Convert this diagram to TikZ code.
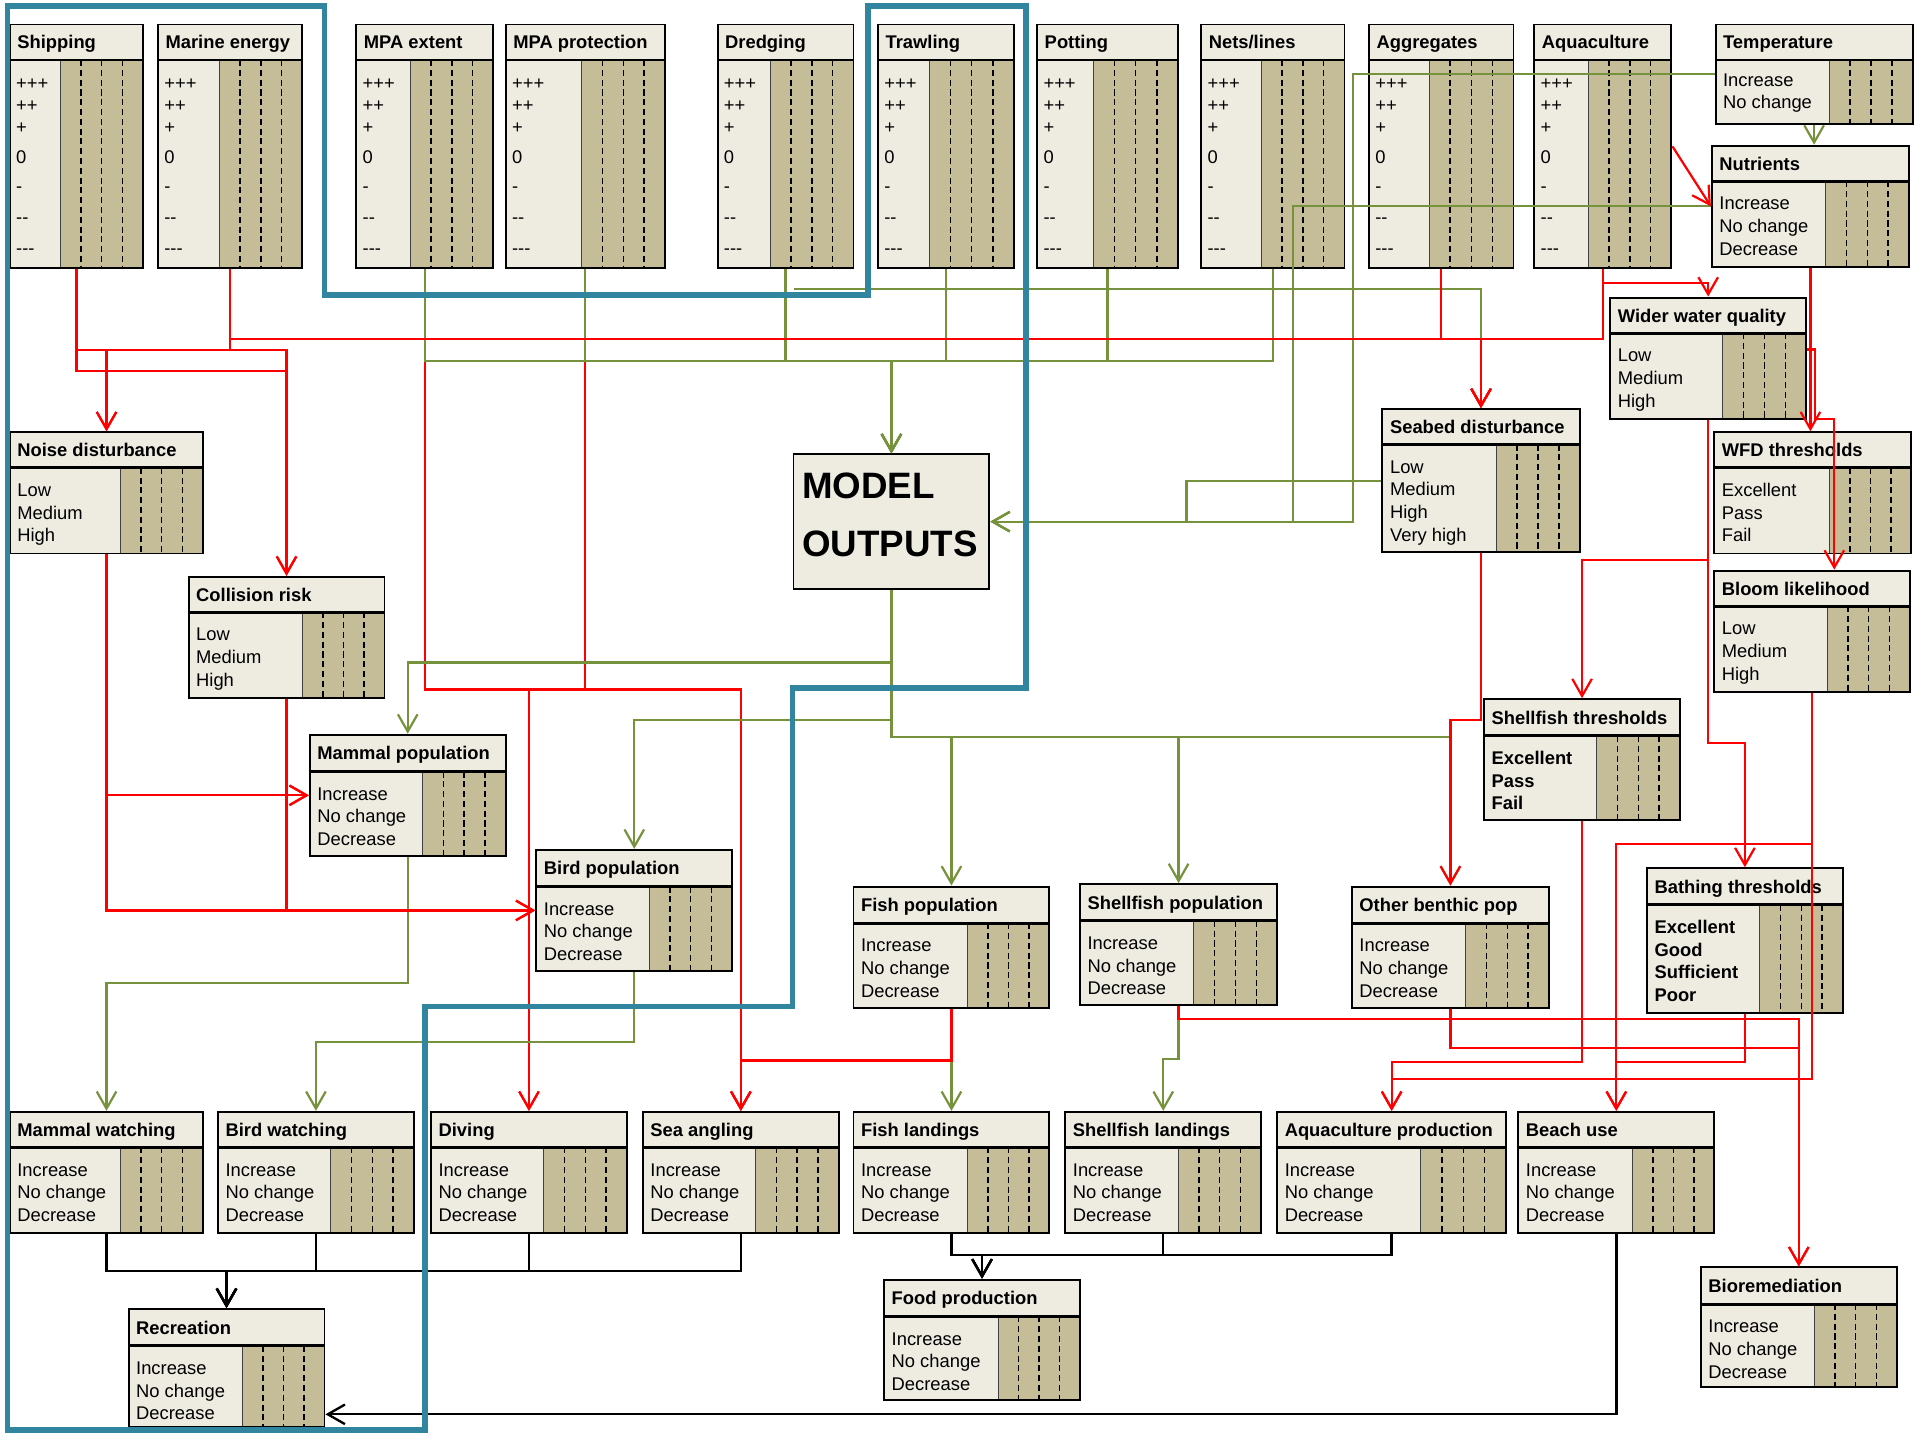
\documentclass[tikz,border=0pt]{standalone}
\usepackage{fontspec}
\setmainfont{Liberation Sans}
\usetikzlibrary{arrows.meta,fit}

\definecolor{boxbg}{RGB}{238,236,225}
\definecolor{boxtan}{RGB}{196,189,151}
\definecolor{linkred}{RGB}{255,0,0}
\definecolor{linkgreen}{RGB}{118,146,60}
\definecolor{zoneteal}{RGB}{49,133,158}

\tikzset{
  boxframe/.style={draw=black, line width=1.6pt, inner sep=0pt},
  headrule/.style={line width=2.4pt},
  scalerule/.style={black, line width=1.2pt, dash pattern=on 5pt off 3pt},
  titletext/.style={font=\fontsize{15}{18}\selectfont\bfseries, anchor=base west, inner sep=0pt},
  itemtext/.style={font=\fontsize{15}{18}\selectfont, anchor=base west, inner sep=0pt},
  link/.style={line width=1.8pt, -{Straight Barb[length=14pt,width=16pt]}},
  redlink/.style={link, draw=linkred},
  greenlink/.style={link, draw=linkgreen},
  blacklink/.style={link, draw=black, line width=1.9pt},
  zone/.style={draw=zoneteal, line width=4.5pt, line join=miter},
}

% #1 name, #2 left, #3 top, #4 right, #5 bottom, #6 header rule, #7 start of scale panel, #8 title
\newcommand\netbox[8]{%
  \fill[boxbg] (#2,#3) rectangle (#4,#5);
  \fill[boxtan] (#7,#6) rectangle (#4,#5);
  \foreach \k in {1,2,3}
    \draw[scalerule] ({#7+(#4-#7)*\k/4},#6) -- ({#7+(#4-#7)*\k/4},#5);
  \draw[black!75, line width=0.7pt] (#7,#6) -- (#7,#5);
  \draw[headrule] (#2,#6) -- (#4,#6);
  \node[boxframe, fit={(#2,#3) (#4,#5)}] (#1) {};
  \node[titletext] (#1-title) at (#2+6,{(#3+#6)/2+5.5}) {#8};
}
% state labels: #1 name, #2 left, #3 header rule, #4 list
\newcommand\boxrows[4]{%
  \foreach \t [count=\i] in {#4}
    \node[itemtext] (#1-r\i) at (#2+6,{#3+23.4+(\i-1)*18.5}) {\t};
}
% scenario scale of the pressure boxes: #1 name, #2 left
\newcommand\signrows[2]{%
  \foreach \t/\yy [count=\i] in {{+++}/73.3,{++}/91.3,{+}/109.3,{0}/133.4,{-}/157.5,{{-}{-}}/182.5,{{-}{-}{-}}/207.5}
    \node[itemtext] (#1-r\i) at (#2+5,\yy) {\t};
}

\begin{document}
\begin{tikzpicture}[x=1pt,y=-1pt]
\useasboundingbox[fill=white] (0,0) rectangle (1568,1176);

% ---------- pressures ----------
\netbox{ship}{8}{20}{117}{219}{49}{49}{Shipping}\signrows{ship}{8}
\netbox{marine}{129}{20}{247}{219}{49}{179}{Marine energy}\signrows{marine}{129}
\netbox{mpaext}{291}{20}{403}{219}{49}{335}{MPA extent}\signrows{mpaext}{291}
\netbox{mpaprot}{413}{20}{543}{219}{49}{475}{MPA protection}\signrows{mpaprot}{413}
\netbox{dredge}{586}{20}{697}{219}{49}{629}{Dredging}\signrows{dredge}{586}
\netbox{trawl}{717}{20}{828}{219}{49}{759}{Trawling}\signrows{trawl}{717}
\netbox{pot}{847}{20}{962}{219}{49}{893}{Potting}\signrows{pot}{847}
\netbox{nets}{981}{20}{1098}{219}{49}{1030}{Nets/lines}\signrows{nets}{981}
\netbox{aggr}{1118}{20}{1236}{219}{49}{1167}{Aggregates}\signrows{aggr}{1118}
\netbox{aquac}{1253}{20}{1365}{219}{49}{1297}{Aquaculture}\signrows{aquac}{1253}

% ---------- environment ----------
\netbox{temp}{1401}{20}{1562}{101}{49}{1494}{Temperature}
\boxrows{temp}{1401}{47}{Increase,No change}
\netbox{nutr}{1398}{119}{1559}{218}{148}{1491}{Nutrients}
\boxrows{nutr}{1398}{148}{Increase,No change,Decrease}
\netbox{wwq}{1315}{243}{1475}{342}{272}{1407}{Wider water quality}
\boxrows{wwq}{1315}{272}{Low,Medium,High}
\netbox{seabed}{1129}{334}{1290}{451}{363}{1222}{Seabed disturbance}
\boxrows{seabed}{1129}{363}{Low,Medium,High,Very high}
\netbox{wfd}{1400}{353}{1561}{452}{382}{1494}{WFD thresholds}
\boxrows{wfd}{1400}{382}{Excellent,Pass,Fail}
\netbox{bloom}{1400}{466}{1560}{565}{495}{1492}{Bloom likelihood}
\boxrows{bloom}{1400}{495}{Low,Medium,High}
\netbox{shthr}{1212}{571}{1372}{670}{601}{1304}{Shellfish thresholds}
\boxrows{shthr}{1212}{601}{\textbf{Excellent},\textbf{Pass},\textbf{Fail}}
\netbox{bath}{1345}{709}{1505}{827}{739}{1437}{Bathing thresholds}
\boxrows{bath}{1345}{739}{\textbf{Excellent},\textbf{Good},\textbf{Sufficient},\textbf{Poor}}
\netbox{noise}{8}{353}{166}{452}{382}{98}{Noise disturbance}
\boxrows{noise}{8}{382}{Low,Medium,High}
\netbox{coll}{154}{471}{314}{570}{500}{247}{Collision risk}
\boxrows{coll}{154}{500}{Low,Medium,High}

% ---------- populations ----------
\netbox{mampop}{253}{600}{413}{699}{630}{345}{Mammal population}
\boxrows{mampop}{253}{630}{Increase,No change,Decrease}
\netbox{birdpop}{438}{694}{598}{793}{724}{530}{Bird population}
\boxrows{birdpop}{438}{724}{Increase,No change,Decrease}
\netbox{fishpop}{697}{724}{857}{823}{754}{790}{Fish population}
\boxrows{fishpop}{697}{754}{Increase,No change,Decrease}
\netbox{shpop}{882}{722}{1043}{821}{752}{975}{Shellfish population}
\boxrows{shpop}{882}{752}{Increase,No change,Decrease}
\netbox{othben}{1104}{724}{1265}{823}{754}{1197}{Other benthic pop}
\boxrows{othben}{1104}{754}{Increase,No change,Decrease}

% ---------- services ----------
\netbox{mamw}{8}{908}{166}{1007}{937}{98}{Mammal watching}
\boxrows{mamw}{8}{937}{Increase,No change,Decrease}
\netbox{birdw}{178}{908}{338}{1007}{937}{270}{Bird watching}
\boxrows{birdw}{178}{937}{Increase,No change,Decrease}
\netbox{diving}{352}{908}{512}{1007}{937}{444}{Diving}
\boxrows{diving}{352}{937}{Increase,No change,Decrease}
\netbox{seaang}{525}{908}{685}{1007}{937}{617}{Sea angling}
\boxrows{seaang}{525}{937}{Increase,No change,Decrease}
\netbox{fishl}{697}{908}{857}{1007}{937}{790}{Fish landings}
\boxrows{fishl}{697}{937}{Increase,No change,Decrease}
\netbox{shl}{870}{908}{1030}{1007}{937}{962}{Shellfish landings}
\boxrows{shl}{870}{937}{Increase,No change,Decrease}
\netbox{aqprod}{1043}{908}{1230}{1007}{937}{1160}{Aquaculture production}
\boxrows{aqprod}{1043}{937}{Increase,No change,Decrease}
\netbox{beach}{1240}{908}{1400}{1007}{937}{1333}{Beach use}
\boxrows{beach}{1240}{937}{Increase,No change,Decrease}
\netbox{recr}{105}{1069}{265}{1165}{1099}{198}{Recreation}
\boxrows{recr}{105}{1099}{Increase,No change,Decrease}
\netbox{food}{722}{1045}{882}{1143}{1075}{815}{Food production}
\boxrows{food}{722}{1075}{Increase,No change,Decrease}
\netbox{biorem}{1389}{1035}{1549}{1133}{1065}{1482}{Bioremediation}
\boxrows{biorem}{1389}{1065}{Increase,No change,Decrease}

% ---------- model hub ----------
\node[boxframe, fill=boxbg, minimum width=160pt, minimum height=110pt] (model) at (728,426) {};
\node[font=\fontsize{30}{36}\selectfont\bfseries, anchor=base west, inner sep=0pt] (model-l1) at (655,406.7) {MODEL};
\node[font=\fontsize{30}{36}\selectfont\bfseries, anchor=base west, inner sep=0pt] (model-l2) at (655,454.7) {OUTPUTS};

% ---------- links from protected-area pressures (under the green ones) ----------
\foreach \s in {mpaext,mpaprot} {
  \draw[redlink] (\s.south) |- (diving.north |- 0,563) -- (diving.north);
  \draw[redlink] (\s.south) |- (seaang.north |- 0,563) -- (seaang.north);
}

% ---------- green links ----------
\draw[greenlink] (temp.south) -- (temp.south |- nutr.north);
\draw[greenlink] (temp.west) -| (1105,426) -- (model.east);
\draw[greenlink] (nutr.west) -| (1056,426) -- (model.east);
\draw[greenlink] (seabed.west) -| (969,426) -- (model.east);
\foreach \s in {mpaext,mpaprot,dredge,trawl,pot,nets}
  \draw[greenlink] (\s.south) |- (model.north |- 0,295) -- (model.north);
\draw[greenlink] ([xshift=7pt]dredge.south |- 0,236) -| (seabed.north);
\draw[greenlink] (model.south) |- (mampop.north |- 0,541) -- (mampop.north);
\draw[greenlink] (model.south) |- (birdpop.north |- 0,588) -- (birdpop.north);
\draw[greenlink] (model.south) |- (fishpop.north |- 0,602) -- (fishpop.north);
\draw[greenlink] (model.south) |- (shpop.north |- 0,602) -- (shpop.north);
\draw[greenlink] (model.south) |- (othben.north |- 0,602) -- (othben.north);
\draw[greenlink] (fishpop.south) -- (fishl.north);
\draw[greenlink] (shpop.south) |- (shl.north |- 0,865) -- (shl.north);
\draw[greenlink] (mampop.south) |- (mamw.north |- 0,803) -- (mamw.north);
\draw[greenlink] (birdpop.south) |- (birdw.north |- 0,851) -- (birdw.north);

% ---------- red links ----------
\draw[redlink] (ship.south) |- (noise.north |- 0,286) -- (noise.north);
\draw[redlink] (marine.south) |- (noise.north |- 0,286) -- (noise.north);
\draw[redlink] (ship.south) |- (coll.north |- 0,303) -- (coll.north);
\draw[redlink] (marine.south) |- (coll.north |- 0,286) -- (coll.north);
\draw[redlink] (marine.south) |- (seabed.north |- 0,277) -- (seabed.north);
\draw[redlink] (aggr.south) |- (seabed.north |- 0,277) -- (seabed.north);
\draw[redlink] (aquac.south) |- (seabed.north |- 0,277) -- (seabed.north);
\draw[redlink] (aquac.south) |- (wwq.north |- 0,231) -- (wwq.north);
\draw[redlink] (aquac.east) -- (nutr.west);
\draw[redlink] (nutr.south) -- (nutr.south |- wfd.north);
\draw[redlink] ([yshift=7pt]wwq.east) -| (1482,342) -| ([xshift=18pt]bloom.north);
\draw[redlink] (wwq.south) |- (shthr.north |- 0,457) -- (shthr.north);
\draw[redlink] (wwq.south) |- (bath.north |- 0,607) -- (bath.north);
\draw[redlink] (seabed.south) |- (othben.north |- 0,588) -- (othben.north);
\draw[redlink] (noise.south) |- (mampop.west);
\draw[redlink] (noise.south) |- (birdpop.west);
\draw[redlink] (coll.south) |- (mampop.west);
\draw[redlink] (coll.south) |- (birdpop.west);
\draw[redlink] (fishpop.south) |- (seaang.north |- 0,866) -- (seaang.north);
\draw[redlink] (shpop.south) |- (biorem.north |- 0,832) -- (biorem.north);
\draw[redlink] (othben.south) |- (biorem.north |- 0,856) -- (biorem.north);
\draw[redlink] (shthr.south) |- (aqprod.north |- 0,867) -- (aqprod.north);
\draw[redlink] (bloom.south) |- (aqprod.north |- 0,881) -- (aqprod.north);
\draw[redlink] (bath.south) |- (beach.north |- 0,867) -- (beach.north);
\draw[redlink] (bloom.south) |- (beach.north |- 0,689) -- (beach.north);

% ---------- black links to aggregate services ----------
\foreach \s in {mamw,birdw,diving,seaang}
  \draw[blacklink] (\s.south) |- (recr.north |- 0,1038) -- (recr.north);
\foreach \s in {fishl,shl,aqprod}
  \draw[blacklink] (\s.south) |- (food.north |- 0,1025) -- (food.north);
\draw[blacklink] (beach.south) |- ([yshift=-38pt]recr.east);

% ---------- zone outline ----------
\draw[zone] (6,5) -- (265,5) -- (265,241) -- (709,241) -- (709,5) -- (838,5)
  -- (838,562) -- (647,562) -- (647,822) -- (347,822) -- (347,1168) -- (6,1168) -- cycle;
\end{tikzpicture}
\end{document}
